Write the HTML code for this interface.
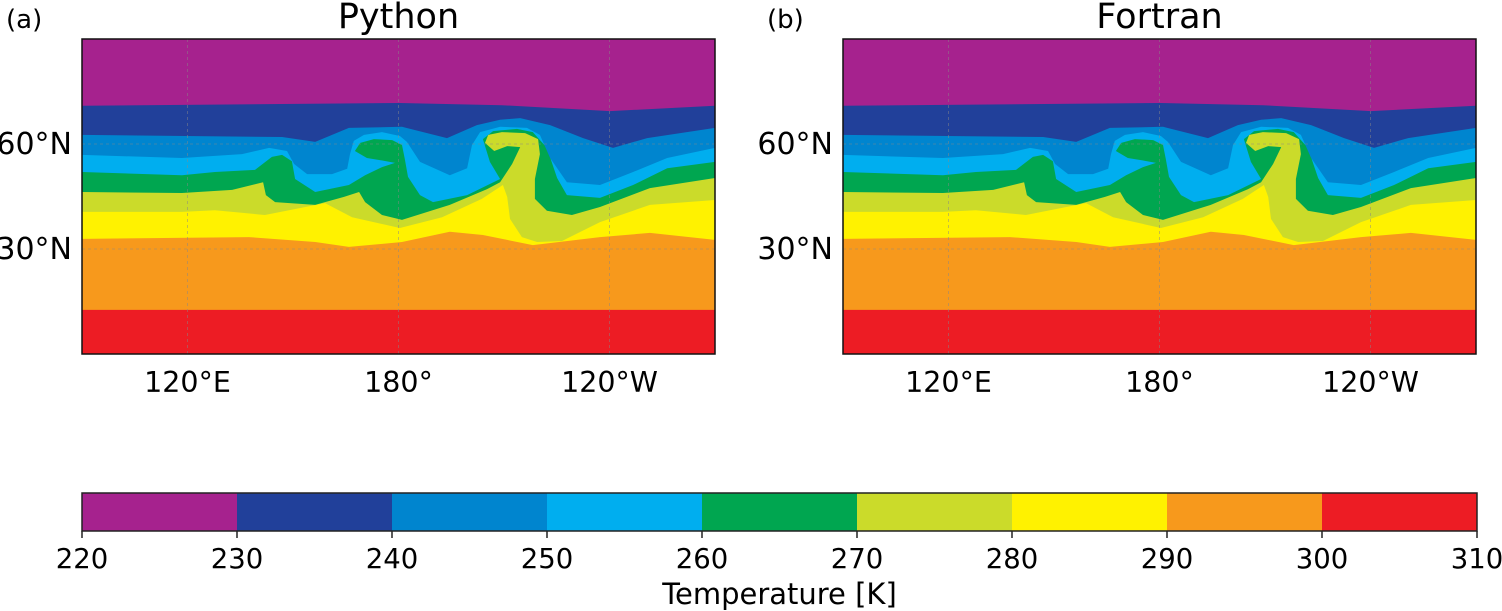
<!DOCTYPE html>
<html><head><meta charset="utf-8">
<style>
html,body{margin:0;padding:0;background:#fff;}
svg{display:block;font-family:"DejaVu Sans","Liberation Sans",sans-serif;}
</style></head>
<body>
<svg id="fig" width="1502" height="611" viewBox="0 0 1502 611" xmlns="http://www.w3.org/2000/svg"></svg>
<script>
// ---- data ----
const levels = [220,230,240,250,260,270,280,290,300,310];
const bandColors = ["#a6228e","#21409a","#0085cf","#00aeef","#00a650","#cbdb2a","#fff200","#f7991c","#ed1c24"];
const lonTicks = [120,180,240];
const lonTickLabels = ["120°E","180°","120°W"];
const latTicks = [30,60];
const latTickLabels = ["30°N","60°N"];
const panelTitles = ["Python","Fortran"];
const panelLetters = ["(a)","(b)"];
// lower boundary of each band [lon, lat] (colder band on top)
const purpleEdge = [[90,70.9],[180.4,71.7],[209.4,71.1],[240.1,69.4],[270,70.9]];
const darkBlueEdge = [[90,62.6],[146.9,62],[156.3,60.6],[165.9,64.6],[181,64.9],[193.8,61.7],[202.3,65.4],[208.9,66.9],[214.6,67.4],[223.1,65.4],[232.5,61.7],[241,58.9],[250.7,61.7],[270,64.6]];
const blueEdge = [[90,56.9],[118.4,56],[135.5,57.1],[143.2,58.9],[148.3,58],[150.3,54.3],[154,51.4],[161.1,51.4],[165.4,52.9],[166.2,57.1],[167.3,60.9],[170.2,62.6],[175.3,63.4],[180.4,62.3],[182.4,60.6],[186.1,54.9],[194.6,51.1],[199.5,53.1],[200.9,59.7],[203.2,63.4],[208.9,64.9],[216.5,64.6],[220.2,62.6],[223.1,56],[227.9,49.1],[237.3,48.3],[246.7,52],[256.4,56],[270,58.9]];
const lightBlueEdge = [[90,52],[118.4,51.1],[127.8,52],[139.2,52.6],[144,56.3],[146.9,56.9],[149.7,55.1],[150.6,50],[156.3,46.3],[165.9,48.3],[170.5,51.1],[175.3,53.4],[179,54.6],[174.7,55.4],[171,56],[167.6,58],[169.1,60.3],[173,61.4],[178.2,61.1],[181,59.7],[181.8,55.7],[182.7,50.6],[186.1,45.4],[189.8,43.4],[199.5,45.4],[208.9,50],[206,54.9],[204,61.4],[206.9,63.7],[213.7,64.3],[218.2,63.4],[222.2,58.9],[225.1,50.3],[227.9,45.4],[237.3,44.6],[246.7,48.3],[256.4,53.1],[270,54.9]];
const greenEdge = [[90,46.3],[118.4,46],[132.7,46.9],[141.5,49.1],[142.3,45.4],[144.9,43.4],[156.3,42.6],[164.5,44.9],[168.8,46.3],[170.5,43.4],[175.3,39.7],[181,38.3],[194.6,42.6],[205.2,47.1],[208.9,49.1],[212.3,54.3],[214.6,59.1],[210.9,59.4],[207.2,58],[204.6,60.3],[205.5,62.6],[209.4,63.4],[216,63.1],[219.7,61.4],[220.2,57.1],[218.8,50],[218.8,44.3],[222.2,40.9],[229.3,39.7],[237.3,42],[251.5,47.4],[270,50.3]];
const yellowGreenEdge = [[90,40.6],[118.4,40.6],[127.8,41.1],[142,39.7],[159.1,43.1],[166.8,39.1],[180.4,36],[192.4,39.1],[203.7,44.3],[209.7,48.3],[210.9,44.9],[211.7,38.6],[215.1,33.4],[219.4,32],[226.5,32.3],[237.3,37.7],[251.5,42.6],[270,44]];
const yellowEdge = [[90,32.9],[137.5,33.4],[156.3,32],[165.9,30.6],[181,32],[194.6,34.9],[204,34],[218.2,31.1],[237.3,33.4],[251.5,34.6],[270,32.6]];
const orangeEdge = [[90,12.6],[270,12.6]];

const NS="http://www.w3.org/2000/svg";
const svg=document.getElementById('fig');
function mk(tag,attrs,parent){const e=document.createElementNS(NS,tag);for(const k in attrs)e.setAttribute(k,attrs[k]);(parent||svg).appendChild(e);return e;}

const PW=633,PH=315,PY=39;
const panelX=[82,843];
function drawPanel(i){
  const x0=panelX[i];
  const X=lon=>x0+(lon-90)/180*PW;
  const Y=lat=>PY+(90-lat)/90*PH;
  const g=mk('g',{});
  
  
  const bg=mk('rect',{x:x0,y:PY,width:PW,height:PH,fill:bandColors[8]},g);
  
  
  const edges=[orangeEdge,yellowEdge,yellowGreenEdge,greenEdge,lightBlueEdge,blueEdge,darkBlueEdge,purpleEdge];
  for(let k=0;k<edges.length;k++){
    const ci=7-k;
    let d='M'+X(90)+','+Y(90);
    edges[k].forEach(p=>{d+=' L'+X(p[0]).toFixed(1)+','+Y(p[1]).toFixed(1);});
    d+=' L'+X(270)+','+Y(90)+' Z';
    const p=mk('path',{d:d,fill:bandColors[ci]},g);
    
    
  }
  lonTicks.forEach((lon,j)=>{
    const l=mk('line',{x1:X(lon),x2:X(lon),y1:PY,y2:PY+PH,stroke:'#888','stroke-width':0.8,'stroke-dasharray':'3,3','stroke-opacity':0.6},g);
    
    
    const t=mk('text',{x:X(lon),y:392,'font-size':28.5,'text-anchor':'middle',fill:'#000'},g);
    t.textContent=lonTickLabels[j];
    
    
  });
  latTicks.forEach((lat,j)=>{
    const l=mk('line',{x1:x0,x2:x0+PW,y1:Y(lat),y2:Y(lat),stroke:'#888','stroke-width':0.8,'stroke-dasharray':'3,3','stroke-opacity':0.6},g);
    
    
    const t=mk('text',{x:x0-10,y:Y(lat)+10,'font-size':30,'text-anchor':'end',fill:'#000'},g);
    t.textContent=latTickLabels[j];
    
    
  });
  const f=mk('rect',{x:x0,y:PY,width:PW,height:PH,fill:'none',stroke:'#111','stroke-width':1.5},g);
  
  
  const tt=mk('text',{x:x0+PW/2,y:28,'font-size':35,'text-anchor':'middle',fill:'#000'},g);
  tt.textContent=panelTitles[i];
  
  
  const lt=mk('text',{x:x0-76,y:28,'font-size':26,fill:'#000'},g);
  lt.textContent=panelLetters[i];
  
  
}
drawPanel(0);drawPanel(1);

// colorbar
const CB={x:82,y:493,w:1395,h:38};
const CX=v=>CB.x+(v-levels[0])/(levels[levels.length-1]-levels[0])*CB.w;
const cb=mk('g',{});


for(let i=0;i<bandColors.length;i++){
  const r=mk('rect',{x:CX(levels[i]),y:CB.y,width:CX(levels[i+1])-CX(levels[i])+0.5,height:CB.h,fill:bandColors[i]},cb);
  
  
}
const cf=mk('rect',{x:CB.x,y:CB.y,width:CB.w,height:CB.h,fill:'none',stroke:'#222','stroke-width':1.5},cb);


levels.forEach(v=>{
  const tk=mk('line',{x1:CX(v),x2:CX(v),y1:CB.y+CB.h,y2:CB.y+CB.h+7,stroke:'#222','stroke-width':1.5},cb);
  
  
  const t=mk('text',{x:CX(v),y:568,'font-size':27.5,'text-anchor':'middle',fill:'#000'},cb);
  t.textContent=String(v);
  
  
});
const cl=mk('text',{x:CB.x+CB.w/2,y:604,'font-size':29,'text-anchor':'middle',fill:'#000'},cb);
cl.textContent='Temperature [K]';


</script>
</body></html>
